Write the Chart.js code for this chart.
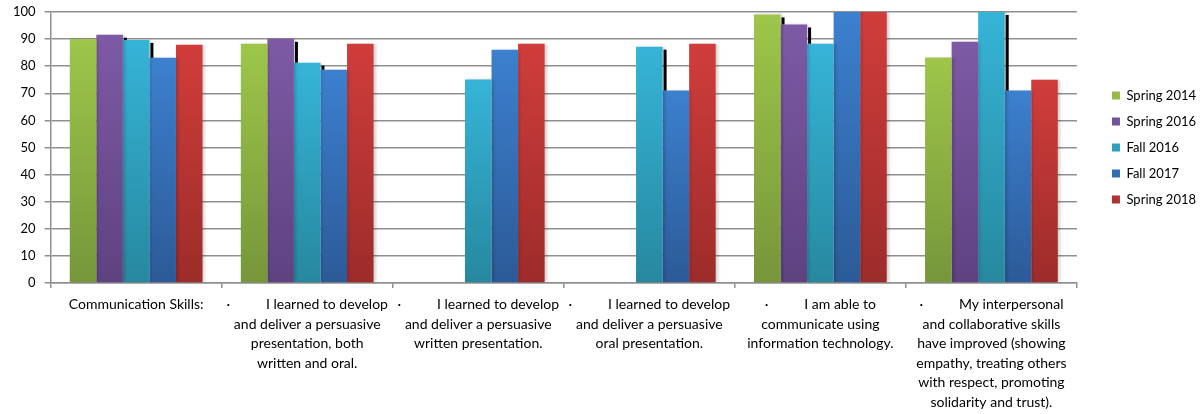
<!DOCTYPE html>
<html>
<head>
<meta charset="utf-8">
<script src="https://cdn.jsdelivr.net/npm/chart.js@4.4.1/dist/chart.umd.min.js"></script>
<style>
  body { margin: 0; background: #fff; }
  #wrap { width: 1204px; height: 414px; }
</style>
</head>
<body>
<div id="wrap"><canvas id="skills-chart"></canvas></div>
<script>
const categories = [
    ['Communication Skills:'],
    ['·          I learned to develop', 'and deliver a persuasive', 'presentation, both', 'written and oral.'],
    ['·          I learned to develop', 'and deliver a persuasive', 'written presentation.'],
    ['·          I learned to develop', 'and deliver a persuasive', 'oral presentation.'],
    ['·          I am able to', 'communicate using', 'information technology.'],
    ['·          My interpersonal', 'and collaborative skills', 'have improved (showing', 'empathy, treating others', 'with respect, promoting', 'solidarity and trust).']
];
const seriesNames = ['Spring 2014', 'Spring 2016', 'Fall 2016', 'Fall 2017', 'Spring 2018'];
const spring2014 = [90, 88.3, null, null, 99.1, 83.2];
const spring2016 = [91.6, 90.1, null, null, 95.4, 89];
const fall2016 = [89.7, 81.3, 75.1, 87.2, 88.3, 100];
const fall2017 = [83.1, 78.7, 86.1, 71, 100, 71];
const spring2018 = [87.9, 88.3, 88.3, 88.3, 100, 75];
const yMin = 0, yMax = 100, yStep = 10;

const topColors = ['#9ec64a', '#7e5aa6', '#36b4d7', '#3c80cf', '#d03d3b'];
const bottomColors = ['#76963a', '#5e4280', '#26889f', '#2c5a97', '#9c2c2a'];

// gradient per bar, light on top, darker at the base
function barFill(i) {
    return (ctx) => {
        const chart = ctx.chart;
        if (!chart.chartArea || ctx.raw == null) return topColors[i];
        const y = chart.scales.y;
        const g = chart.ctx.createLinearGradient(0, y.getPixelForValue(ctx.raw), 0, y.getPixelForValue(0));
        g.addColorStop(0, topColors[i]);
        g.addColorStop(1, bottomColors[i]);
        return g;
    };
}

// soft shadow on the bars + the black drop line where the next bar is lower
const barShadow = {
    id: 'barShadow',
    beforeDatasetsDraw(chart) {
        const c = chart.ctx;
        c.save();
        c.shadowColor = 'rgba(0,0,0,0.2)';
        c.shadowBlur = 3;
        c.shadowOffsetX = 2;
    },
    afterDatasetsDraw(chart) {
        const c = chart.ctx;
        c.restore();
        c.save();
        c.fillStyle = '#000';
        const sets = chart.data.datasets;
        for (let j = 0; j < chart.data.labels.length; j++) {
            for (let i = 1; i < sets.length; i++) {
                const prev = sets[i - 1].data[j];
                const cur = sets[i].data[j];
                if (prev == null || cur == null || prev <= cur) continue;
                const pb = chart.getDatasetMeta(i - 1).data[j];
                const cb = chart.getDatasetMeta(i).data[j];
                const left = cb.x - cb.width / 2;
                c.fillRect(left + 1, pb.y + 3, 3, cb.y - pb.y - 3);
            }
        }
        c.restore();
    }
};

const values = [spring2014, spring2016, fall2016, fall2017, spring2018];
const font = "Lato, 'Liberation Sans', sans-serif";

const ctx = document.getElementById('skills-chart').getContext('2d');
const chart = new Chart(ctx, {
    type: 'bar',
    data: {
        labels: categories,
        datasets: values.map((d, i) => ({
            label: seriesNames[i],
            data: d,
            backgroundColor: barFill(i),
            borderWidth: 0,
            categoryPercentage: 0.776,
            barPercentage: 1.0,
            yAxisID: 'y'
        }))
    },
    options: {
        responsive: true,
        maintainAspectRatio: false,
        animation: false,
        layout: { padding: { left: 4, top: 0, right: -2, bottom: 0 } },
        plugins: {
            tooltip: { enabled: false },
            legend: {
                position: 'right',
                fullSize: false,
                labels: {
                    boxWidth: 8,
                    boxHeight: 8,
                    padding: 13,
                    color: '#000',
                    font: { family: font, size: 13 }
                }
            }
        },
        scales: {
            x: {
                grid: { drawOnChartArea: false, drawTicks: true, tickLength: 5, color: '#8f8f8f', lineWidth: 1.5 },
                border: { color: '#8f8f8f', width: 1.5 },
                ticks: {
                    autoSkip: false,
                    maxRotation: 0,
                    minRotation: 0,
                    padding: 7,
                    color: '#000',
                    font: { family: font, size: 14, lineHeight: 1.39 }
                },
                afterFit: (s) => { s.height = 131; }
            },
            y: {
                min: yMin,
                max: yMax,
                grid: { color: '#8f8f8f', lineWidth: 1.5, tickLength: 6 },
                border: { color: '#8f8f8f', width: 1.5 },
                ticks: {
                    stepSize: yStep,
                    padding: 9,
                    color: '#000',
                    font: { family: font, size: 13 }
                },
                afterFit: (s) => { s.paddingTop = 12; }
            },
            spacer: {
                position: 'right',
                display: true,
                grid: { display: false },
                border: { display: false },
                ticks: { display: false },
                afterFit: (s) => { s.width = 22; }
            }
        }
    },
    plugins: [barShadow]
});
</script>
</body>
</html>
